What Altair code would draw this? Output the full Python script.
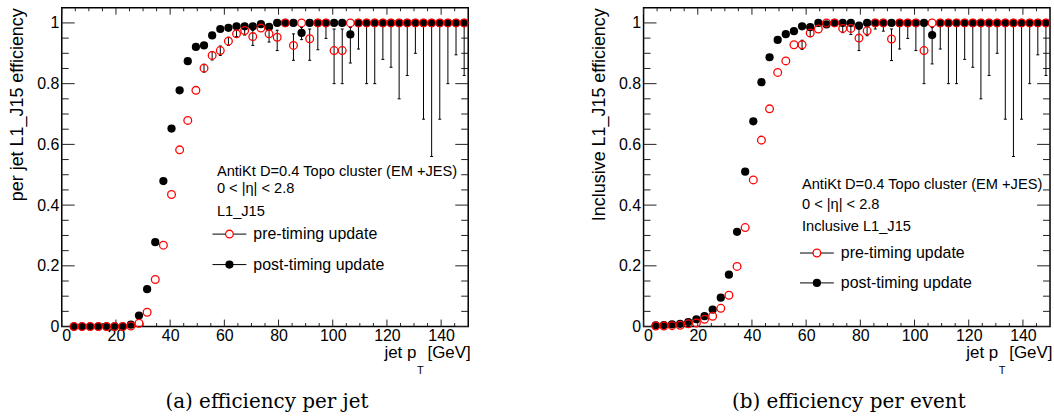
import altair as alt
import pandas as pd

# ---------------- data ----------------
pt = [4.5, 7.5, 10.5, 13.5, 16.5, 19.5, 22.5, 25.5, 28.5, 31.5, 34.5, 37.5, 40.5,
      43.5, 46.5, 49.5, 52.5, 55.5, 58.5, 61.5, 64.5, 67.5, 70.5, 73.5, 76.5, 79.5,
      82.5, 85.5, 88.5, 91.5, 94.5, 97.5, 100.5, 103.5, 106.5, 109.5, 112.5, 115.5,
      118.5, 121.5, 124.5, 127.5, 130.5, 133.5, 136.5, 139.5, 142.5, 145.5, 148.5]

jet_pre = [0, 0, 0, 0, 0, 0, 0, 0.002, 0.011, 0.047, 0.155, 0.268, 0.435,
           0.582, 0.679, 0.778, 0.851, 0.893, 0.909, 0.940, 0.964, 0.975, 0.955, 0.983,
           0.964, 0.953, 1.0, 0.926, 1.0, 0.948, 1.0, 1.0, 0.909, 0.909, 1.0,
           1, 1, 1, 1, 1, 1, 1, 1, 1, 1, 1, 1, 1, 1]
jet_post = [0, 0, 0, 0, 0, 0, 0, 0.006, 0.036, 0.123, 0.278, 0.479, 0.652,
            0.778, 0.874, 0.921, 0.926, 0.959, 0.980, 0.984, 0.989, 0.989, 0.989, 0.996,
            0.987, 1.0, 1.0, 1.0, 0.967, 1.0, 1.0, 1.0, 1.0, 1.0, 0.962,
            1, 1, 1, 1, 1, 1, 1, 1, 1, 1, 1, 1, 1, 1]

evt_pre = [0.002, 0.002, 0.003, 0.004, 0.009, 0.012, 0.024, 0.034, 0.060, 0.103, 0.198,
           0.326, 0.483, 0.614, 0.717, 0.837, 0.875, 0.928, 0.928, 0.967, 0.980, 1.0,
           1.0, 0.982, 0.982, 0.950, 0.974, 1.0, 1.0, 0.947, 1.0, 1.0, 1.0, 0.909, 1.0,
           1, 1, 1, 1, 1, 1, 1, 1, 1, 1, 1, 1, 1, 1]
evt_post = [0.004, 0.005, 0.007, 0.009, 0.015, 0.024, 0.034, 0.056, 0.095, 0.171, 0.312,
            0.510, 0.676, 0.805, 0.887, 0.944, 0.963, 0.973, 0.989, 0.986, 1.0, 0.995,
            1.0, 1.0, 1.0, 0.991, 1.0, 1.0, 1.0, 1.0, 1.0, 1.0, 1.0, 1.0, 0.960,
            1, 1, 1, 1, 1, 1, 1, 1, 1, 1, 1, 1, 1, 1]

# error bars (bin centre, lower edge, upper edge)
jet_err_x = [52.5, 55.5, 58.5, 61.5, 64.5, 67.5, 70.5, 76.5, 79.5, 85.5, 88.5, 91.5,
             94.5, 97.5, 100.5, 103.5, 106.5, 109.5, 112.5, 115.5, 118.5, 121.5, 124.5,
             127.5, 130.5, 133.5, 136.5, 139.5, 142.5, 145.5, 148.5]
jet_err_lo = [0.838, 0.878, 0.893, 0.926, 0.955, 0.960, 0.926, 0.937, 0.909, 0.877, 0.945,
              0.877, 0.912, 0.949, 0.80, 0.80, 0.868, 0.914, 0.80, 0.80, 0.880, 0.854,
              0.75, 0.827, 0.90, 0.683, 0.56, 0.683, 0.80, 0.895, 0.827]
jet_err_hi = [0.864, 0.906, 0.924, 0.953, 0.980, 0.985, 0.975, 0.980, 0.976, 0.964, 0.985,
              0.980, 1.0, 1.0, 0.980, 0.980, 0.985, 1.0, 1.0, 1.0, 1.0, 1.0,
              1.0, 1.0, 1.0, 1.0, 1.0, 1.0, 1.0, 1.0, 1.0]

evt_err_x = [58.5, 61.5, 73.5, 76.5, 79.5, 82.5, 85.5, 88.5, 91.5, 94.5, 97.5, 100.5,
             103.5, 106.5, 109.5, 112.5, 115.5, 118.5, 121.5, 124.5, 127.5, 130.5,
             133.5, 136.5, 139.5, 142.5, 145.5, 148.5]
evt_err_lo = [0.913, 0.955, 0.968, 0.962, 0.909, 0.958, 0.980, 0.973, 0.876, 0.914, 0.949,
              0.909, 0.80, 0.865, 0.914, 0.80, 0.80, 0.880, 0.854, 0.75, 0.827, 0.90,
              0.683, 0.56, 0.683, 0.80, 0.895, 0.827]
evt_err_hi = [0.943, 0.978, 0.993, 0.995, 0.980, 0.990, 1.0, 1.0, 0.980, 1.0, 1.0,
              1.0, 1.0, 0.985, 1.0, 1.0, 1.0, 1.0, 1.0, 1.0, 1.0, 1.0,
              1.0, 1.0, 1.0, 1.0, 1.0, 1.0]

x_major = [0, 20, 40, 60, 80, 100, 120, 140]
x_minor = [5, 10, 15, 25, 30, 35, 45, 50, 55, 65, 70, 75, 85, 90, 95, 105, 110, 115,
           125, 130, 135, 145]
y_major = [0, 0.2, 0.4, 0.6, 0.8, 1.0]
y_minor = [0.05, 0.1, 0.15, 0.25, 0.3, 0.35, 0.45, 0.5, 0.55, 0.65, 0.7, 0.75,
           0.85, 0.9, 0.95]

# ---------------- styling ----------------
W, H = 408, 320
SANS = "Liberation Sans"
SERIF = "DejaVu Serif"
TICK = "#222222"
xs = alt.Scale(domain=[0, 150], nice=False, zero=False)
ys = alt.Scale(domain=[0, 1.05], nice=False, zero=False)
one = pd.DataFrame({"k": [0]})
YLAB = "datum.value == 0 ? '0' : datum.value == 1 ? '1' : format(datum.value, '.1f')"


def tick_layers():
    layers = []
    xmaj = alt.Chart(pd.DataFrame({"tx": x_major}))
    xmin = alt.Chart(pd.DataFrame({"tx": x_minor}))
    ymaj = alt.Chart(pd.DataFrame({"ty": y_major}))
    ymin = alt.Chart(pd.DataFrame({"ty": y_minor}))
    for src, ln in ((xmaj, 7), (xmin, 3.5)):
        xe = alt.X("tx:Q", scale=xs)
        layers.append(src.mark_rule(color=TICK, strokeWidth=1).encode(
            x=xe, y=alt.value(H), y2=alt.value(H - ln)))
        layers.append(src.mark_rule(color=TICK, strokeWidth=1).encode(
            x=xe, y=alt.value(0), y2=alt.value(ln)))
    for src, ln in ((ymaj, 13), (ymin, 7)):
        ye = alt.Y("ty:Q", scale=ys)
        layers.append(src.mark_rule(color=TICK, strokeWidth=1).encode(
            y=ye, x=alt.value(0), x2=alt.value(ln)))
        layers.append(src.mark_rule(color=TICK, strokeWidth=1).encode(
            y=ye, x=alt.value(W), x2=alt.value(W - ln)))
    return layers


def text(t, x, y, size=16, font=SANS, align="left", baseline="middle"):
    return alt.Chart(one).mark_text(
        text=t, font=font, fontSize=size, align=align, baseline=baseline,
        color="black").encode(x=alt.value(x), y=alt.value(y))


def panel(pre, post, ex, elo, ehi, ytitle, header, hx, hy, ly, mx, caption):
    df = pd.DataFrame({"pt": pt, "pre": pre, "post": post})
    edf = pd.DataFrame({"x": ex, "lo": elo, "hi": ehi})
    base = alt.Chart(df)
    frame = base.mark_point(opacity=0).encode(
        x=alt.X("pt:Q", scale=xs,
                axis=alt.Axis(values=x_major, format="d", labelPadding=1, title=None)),
        y=alt.Y("post:Q", scale=ys,
                axis=alt.Axis(values=y_major, labelExpr=YLAB, labelPadding=3,
                              title=ytitle, titleAngle=270, titleAlign="right",
                              titleBaseline="middle", titleX=-44.5, titleY=0)))
    post_pts = base.mark_point(shape="circle", filled=True, color="black",
                               size=68, opacity=1).encode(
        x=alt.X("pt:Q", scale=xs), y=alt.Y("post:Q", scale=ys))
    pre_pts = base.mark_point(shape="circle", filled=False, color="#ff0000",
                              strokeWidth=1.3, size=60, opacity=1).encode(
        x=alt.X("pt:Q", scale=xs), y=alt.Y("pre:Q", scale=ys))
    ebase = alt.Chart(edf)
    bars = ebase.mark_rule(color="black", strokeWidth=1).encode(
        x=alt.X("x:Q", scale=xs), y=alt.Y("lo:Q", scale=ys), y2="hi:Q")
    cap_lo = ebase.mark_tick(orient="horizontal", color="black", size=3,
                             thickness=1, opacity=1).encode(
        x=alt.X("x:Q", scale=xs), y=alt.Y("lo:Q", scale=ys))
    cap_hi = ebase.mark_tick(orient="horizontal", color="black", size=3,
                             thickness=1, opacity=1).encode(
        x=alt.X("x:Q", scale=xs), y=alt.Y("hi:Q", scale=ys))
    ann = []
    for i, line in enumerate(header):
        ann.append(text(line, hx, hy[i], size=14.7))
    for yy in ly:
        ann.append(alt.Chart(one).mark_rule(color="black", strokeWidth=1).encode(
            x=alt.value(mx - 17), x2=alt.value(mx + 17), y=alt.value(yy)))
    ann.append(alt.Chart(one).mark_point(shape="circle", filled=True, color="white",
                                         size=60, opacity=1).encode(
        x=alt.value(mx), y=alt.value(ly[0])))
    ann.append(alt.Chart(one).mark_point(shape="circle", filled=False, color="#ff0000",
                                         strokeWidth=1.3, size=60, opacity=1).encode(
        x=alt.value(mx), y=alt.value(ly[0])))
    ann.append(alt.Chart(one).mark_point(shape="circle", filled=True, color="black",
                                         size=68, opacity=1).encode(
        x=alt.value(mx), y=alt.value(ly[1])))
    ann.append(text("pre-timing update", mx + 24, ly[0], size=16))
    ann.append(text("post-timing update", mx + 24, ly[1], size=16))
    # x-axis title "jet p_T [GeV]"
    ann.append(text("jet p", 356, 352, size=17, align="right", baseline="alphabetic"))
    ann.append(text("T", 356.5, 368, size=11, baseline="alphabetic"))
    ann.append(text("[GeV]", 410.5, 352, size=17, align="right", baseline="alphabetic"))
    # sub-figure caption
    ann.append(text(caption, W / 2 + 2, 396, size=20, font=SERIF, align="center"))
    return alt.layer(frame, *tick_layers(), post_pts, bars, cap_lo, cap_hi, pre_pts,
                     *ann).properties(width=W, height=H)


left = panel(jet_pre, jet_post, jet_err_x, jet_err_lo, jet_err_hi,
             "per jet L1_J15 efficiency",
             ["AntiKt D=0.4 Topo cluster (EM +JES)", "0 < |η| < 2.8", "L1_J15"],
             155.7, [164.5, 181.8, 205.5], [227.2, 257.8], 168.3,
             "(a) efficiency per jet")
right = panel(evt_pre, evt_post, evt_err_x, evt_err_lo, evt_err_hi,
              "Inclusive L1_J15 efficiency",
              ["AntiKt D=0.4 Topo cluster (EM +JES)", "0 < |η| < 2.8",
               "Inclusive L1_J15"],
              159, [178.3, 197.8, 220.5], [246.2, 276.2], 174,
              "(b) efficiency per event")

chart = alt.hconcat(left, right, spacing=117).properties(
    padding={"left": 7, "top": 5, "right": 0, "bottom": 0},
    background="white",
).configure_view(
    stroke="black", strokeWidth=1.5
).configure_axis(
    grid=False, ticks=False, domain=False, labelFont=SANS, labelFontSize=16,
    labelColor="black", titleFont=SANS, titleFontSize=18, titleFontWeight="normal",
    titleColor="black"
)

chart.save("out.html", embed_options={"renderer": "svg", "actions": False})
